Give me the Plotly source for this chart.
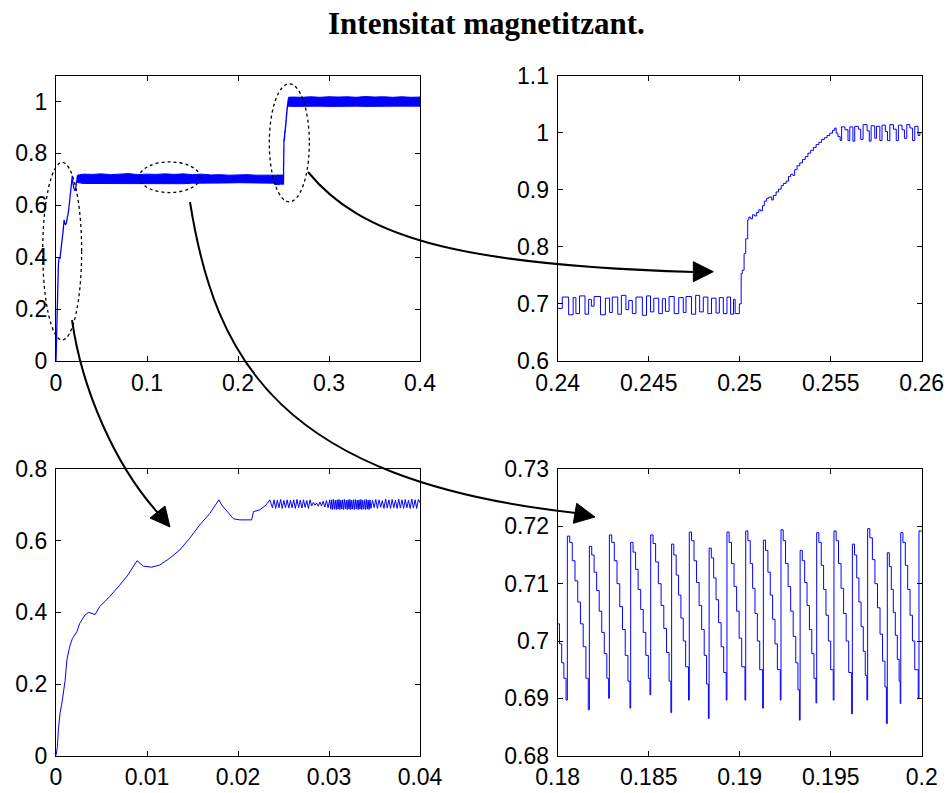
import plotly.graph_objects as go

# ---------------- data ----------------
# bottom-left: start-up transient 0 .. 0.04 s
bl_t = [0, 0.00015, 0.00026, 0.00044, 0.0007, 0.001, 0.0012, 0.0015, 0.0018, 0.0023,
        0.0026, 0.0032, 0.0036, 0.0043, 0.0048, 0.0059, 0.007, 0.0079, 0.0089, 0.0096,
        0.0105, 0.0114, 0.0125, 0.0136, 0.0147, 0.0158, 0.0169, 0.0179, 0.0182, 0.0188,
        0.0195, 0.0202, 0.0215, 0.0217, 0.0224, 0.0231, 0.0235,
        0.02378, 0.02396, 0.02414, 0.02432, 0.02450, 0.02468, 0.02486, 0.02504, 0.02522,
        0.02540, 0.02558, 0.02576, 0.02594, 0.02612, 0.02630, 0.02648, 0.02666, 0.02684,
        0.02702, 0.02720, 0.02738, 0.02756, 0.02774, 0.02792, 0.02810, 0.02828, 0.02846,
        0.02864, 0.02882, 0.02900, 0.02918, 0.02936, 0.02954, 0.02972, 0.02990, 0.03008,
        0.03020, 0.03030, 0.03040, 0.03050, 0.03060, 0.03070, 0.03080, 0.03090, 0.03100,
        0.03110, 0.03120, 0.03130, 0.03140, 0.03150, 0.03160, 0.03170, 0.03180, 0.03190,
        0.03200, 0.03210, 0.03220, 0.03230, 0.03240, 0.03250, 0.03260, 0.03270, 0.03280,
        0.03290, 0.03300, 0.03310, 0.03320, 0.03330, 0.03340, 0.03350, 0.03360, 0.03370,
        0.03380, 0.03390, 0.03400, 0.03410, 0.03420, 0.03430, 0.03440, 0.03450, 0.03460,
        0.03478, 0.03496, 0.03514, 0.03532, 0.03550, 0.03568, 0.03586, 0.03604, 0.03622,
        0.03640, 0.03658, 0.03676, 0.03694, 0.03712, 0.03730, 0.03748, 0.03766, 0.03784,
        0.03802, 0.03820, 0.03838, 0.03856, 0.03874, 0.03892, 0.03910, 0.03928, 0.03946,
        0.03964, 0.03982, 0.04000]
bl_v = [0, 0.025, 0.072, 0.118, 0.155, 0.21, 0.267, 0.304, 0.327, 0.346,
        0.369, 0.393, 0.4, 0.394, 0.416, 0.444, 0.476, 0.504, 0.544, 0.529,
        0.526, 0.532, 0.551, 0.574, 0.607, 0.644, 0.676, 0.714, 0.70, 0.681,
        0.661, 0.658, 0.658, 0.681, 0.686, 0.70, 0.714,
        0.692, 0.714, 0.690, 0.713, 0.692, 0.715, 0.690, 0.712, 0.692,
        0.714, 0.691, 0.713, 0.692, 0.714, 0.690, 0.715, 0.692, 0.713,
        0.691, 0.714, 0.693, 0.712, 0.690, 0.714, 0.697, 0.707, 0.699,
        0.705, 0.696, 0.708, 0.697, 0.710, 0.694, 0.712, 0.692, 0.714,
        0.688, 0.714, 0.687, 0.715, 0.688, 0.713, 0.687, 0.714, 0.688,
        0.715, 0.687, 0.713, 0.688, 0.714, 0.687, 0.715, 0.689, 0.713,
        0.687, 0.714, 0.688, 0.715, 0.687, 0.713, 0.688, 0.714, 0.687,
        0.715, 0.689, 0.713, 0.687, 0.714, 0.688, 0.715, 0.687, 0.713,
        0.688, 0.714, 0.687, 0.715, 0.688, 0.713, 0.687, 0.714, 0.690,
        0.713, 0.692, 0.715, 0.690, 0.714, 0.693, 0.712, 0.690, 0.716,
        0.691, 0.714, 0.690, 0.715, 0.692, 0.713, 0.690, 0.716, 0.691,
        0.714, 0.690, 0.715, 0.692, 0.713, 0.690, 0.716, 0.691, 0.714,
        0.690, 0.715, 0.706]

# top-right: step of the reference at 0.25 s (0.24 .. 0.26 s)
tr_t = [0.24000, 0.24025, 0.24060, 0.24085, 0.24100, 0.24120, 0.24150, 0.24170, 0.24185,
        0.24200, 0.24235, 0.24262, 0.24285, 0.24300, 0.24330, 0.24350, 0.24375, 0.24390,
        0.24410, 0.24430, 0.24465, 0.24488, 0.24510, 0.24528, 0.24555, 0.24575, 0.24592,
        0.24612, 0.24640, 0.24665, 0.24690, 0.24705, 0.24735, 0.24758, 0.24780, 0.24800,
        0.24825, 0.24845, 0.24870, 0.24888, 0.24910, 0.24930, 0.24950, 0.24966, 0.24975,
        0.24998, 0.25008, 0.25014, 0.25024, 0.25033, 0.25044, 0.25050, 0.25060, 0.25070,
        0.25082, 0.25093, 0.25105, 0.25115, 0.25125, 0.25135, 0.25148, 0.25160, 0.25176,
        0.25185, 0.25200, 0.25213, 0.25228, 0.25240, 0.25255, 0.25268, 0.25280, 0.25292,
        0.25302, 0.25315, 0.25330, 0.25345, 0.25360, 0.25375, 0.25390, 0.25405, 0.25420,
        0.25435, 0.25450, 0.25465, 0.25480, 0.25495, 0.25510, 0.25522,
        0.25530, 0.25540, 0.25552, 0.25560, 0.25578, 0.25595, 0.25605, 0.25622, 0.25632,
        0.25652, 0.25665, 0.25678, 0.25700, 0.25712, 0.25722, 0.25742, 0.25752, 0.25770,
        0.25782, 0.25800, 0.25812, 0.25825, 0.25845, 0.25860, 0.25872, 0.25892, 0.25905,
        0.25918, 0.25935, 0.25950, 0.25962, 0.25980, 0.25990, 0.26000]
tr_v = [0.692, 0.712, 0.681, 0.711, 0.683, 0.714, 0.682, 0.708, 0.696,
        0.713, 0.681, 0.710, 0.685, 0.712, 0.682, 0.715, 0.690, 0.706,
        0.683, 0.712, 0.680, 0.714, 0.686, 0.710, 0.683, 0.709, 0.687,
        0.713, 0.683, 0.711, 0.685, 0.713, 0.682, 0.715, 0.686, 0.712,
        0.683, 0.710, 0.684, 0.711, 0.683, 0.712, 0.682, 0.708, 0.683,
        0.700, 0.753, 0.759, 0.788, 0.814, 0.847, 0.852, 0.849, 0.856,
        0.854, 0.860, 0.865, 0.863, 0.872, 0.880, 0.885, 0.887, 0.882,
        0.890, 0.896, 0.901, 0.907, 0.911, 0.915, 0.923, 0.927, 0.925,
        0.935, 0.942, 0.947, 0.953, 0.958, 0.964, 0.969, 0.974, 0.979,
        0.983, 0.988, 0.991, 0.995, 0.999, 1.004, 1.008,
        0.999, 0.993, 0.986, 1.010, 1.005, 0.986, 1.010, 0.985, 1.011,
        1.006, 0.988, 1.014, 1.003, 0.985, 1.012, 0.990, 1.011, 0.986,
        1.013, 1.002, 0.986, 1.014, 1.006, 0.986, 1.013, 1.005, 0.990,
        1.014, 1.008, 0.986, 1.011, 0.995, 1.000, 0.999]

# bottom-right: steady-state ripple 0.18 .. 0.20 s (one line per cycle)
br_t = [0.18000, 0.18010, 0.18022, 0.18034, 0.18046,
        0.18053, 0.18066, 0.18080, 0.18095, 0.18110, 0.18125, 0.18140, 0.18155, 0.18168,
        0.18174, 0.18187, 0.18200, 0.18214, 0.18228, 0.18242, 0.18256, 0.18270, 0.18280,
        0.18284, 0.18297, 0.18311, 0.18326, 0.18341, 0.18356, 0.18371, 0.18386, 0.18397,
        0.18401, 0.18414, 0.18428, 0.18442, 0.18456, 0.18470, 0.18484, 0.18498, 0.18507,
        0.18511, 0.18524, 0.18538, 0.18553, 0.18568, 0.18583, 0.18598, 0.18612, 0.18622,
        0.18626, 0.18638, 0.18651, 0.18664, 0.18677, 0.18690, 0.18703, 0.18719,
        0.18723, 0.18735, 0.18749, 0.18763, 0.18777, 0.18791, 0.18805, 0.18818, 0.18828,
        0.18832, 0.18844, 0.18857, 0.18870, 0.18884, 0.18898, 0.18912, 0.18926,
        0.18930, 0.18942, 0.18955, 0.18969, 0.18983, 0.18997, 0.19011, 0.19029,
        0.19033, 0.19045, 0.19058, 0.19071, 0.19084, 0.19097, 0.19110, 0.19126,
        0.19130, 0.19142, 0.19155, 0.19168, 0.19181, 0.19194, 0.19207, 0.19223,
        0.19227, 0.19239, 0.19252, 0.19266, 0.19280, 0.19294, 0.19308, 0.19320, 0.19328,
        0.19332, 0.19344, 0.19357, 0.19370, 0.19383, 0.19396, 0.19408, 0.19419,
        0.19423, 0.19435, 0.19448, 0.19461, 0.19474, 0.19487, 0.19500, 0.19514,
        0.19518, 0.19530, 0.19543, 0.19557, 0.19571, 0.19585, 0.19599, 0.19615,
        0.19619, 0.19631, 0.19643, 0.19655, 0.19667, 0.19679, 0.19690, 0.19699,
        0.19703, 0.19715, 0.19729, 0.19743, 0.19757, 0.19771, 0.19785, 0.19798, 0.19806,
        0.19811, 0.19822, 0.19833, 0.19844, 0.19855, 0.19866, 0.19876, 0.19882,
        0.19885, 0.19897, 0.19910, 0.19923, 0.19936, 0.19949, 0.19962, 0.19981,
        0.19985, 0.20000]
br_v = [0.7030, 0.6995, 0.6962, 0.6935, 0.6897,
        0.7183, 0.7172, 0.7140, 0.7105, 0.7068, 0.7030, 0.6990, 0.6935, 0.6880,
        0.7165, 0.7150, 0.7120, 0.7088, 0.7052, 0.7015, 0.6978, 0.6935, 0.6900,
        0.7185, 0.7172, 0.7140, 0.7100, 0.7060, 0.7020, 0.6975, 0.6930, 0.6883,
        0.7172, 0.7155, 0.7125, 0.7090, 0.7055, 0.7015, 0.6975, 0.6935, 0.6906,
        0.7185, 0.7170, 0.7138, 0.7100, 0.7062, 0.7022, 0.6980, 0.6930, 0.6875,
        0.7169, 0.7150, 0.7115, 0.7080, 0.7040, 0.7000, 0.6955, 0.6897,
        0.7190, 0.7175, 0.7140, 0.7102, 0.7062, 0.7020, 0.6975, 0.6925, 0.6865,
        0.7162, 0.7145, 0.7110, 0.7072, 0.7032, 0.6990, 0.6945, 0.6897,
        0.7190, 0.7172, 0.7135, 0.7095, 0.7052, 0.7005, 0.6955, 0.6897,
        0.7192, 0.7175, 0.7135, 0.7092, 0.7048, 0.7000, 0.6950, 0.6883,
        0.7176, 0.7158, 0.7120, 0.7080, 0.7038, 0.6995, 0.6950, 0.6897,
        0.7194, 0.7175, 0.7135, 0.7095, 0.7052, 0.7008, 0.6962, 0.6915, 0.6862,
        0.7158, 0.7140, 0.7102, 0.7062, 0.7020, 0.6978, 0.6935, 0.6892,
        0.7189, 0.7172, 0.7132, 0.7090, 0.7045, 0.7000, 0.6950, 0.6897,
        0.7192, 0.7175, 0.7135, 0.7092, 0.7048, 0.7000, 0.6945, 0.6873,
        0.7169, 0.7150, 0.7110, 0.7068, 0.7025, 0.6982, 0.6940, 0.6897,
        0.7196, 0.7180, 0.7142, 0.7100, 0.7058, 0.7012, 0.6965, 0.6920, 0.6856,
        0.7154, 0.7130, 0.7090, 0.7050, 0.7010, 0.6968, 0.6930, 0.6891,
        0.7189, 0.7172, 0.7132, 0.7090, 0.7045, 0.7000, 0.6950, 0.6900,
        0.7192, 0.7190]

# top-left overview: envelope of the fast ripple between the detailed windows
band1_t = [0.0235, 0.03, 0.04, 0.05, 0.06, 0.07, 0.08, 0.09, 0.10, 0.11, 0.12, 0.13,
           0.14, 0.15, 0.16, 0.17, 0.18, 0.19, 0.20, 0.21, 0.22, 0.23, 0.24, 0.2497]
band1_hi = [0.716, 0.720, 0.719, 0.721, 0.718, 0.720, 0.722, 0.718, 0.720, 0.719, 0.721, 0.719,
            0.721, 0.718, 0.720, 0.717, 0.718, 0.716, 0.717, 0.718, 0.716, 0.717, 0.716, 0.716]
band1_lo = [0.688, 0.684, 0.683, 0.684, 0.682, 0.683, 0.684, 0.683, 0.684, 0.682, 0.684, 0.683,
            0.683, 0.685, 0.685, 0.686, 0.686, 0.686, 0.687, 0.686, 0.687, 0.686, 0.685, 0.683]
band2_t = [0.2552, 0.26, 0.27, 0.28, 0.29, 0.30, 0.31, 0.32, 0.33, 0.34, 0.35, 0.36,
           0.37, 0.38, 0.39, 0.40]
band2_hi = [1.016, 1.017, 1.016, 1.018, 1.016, 1.018, 1.017, 1.018, 1.016, 1.019, 1.017, 1.018,
            1.016, 1.018, 1.016, 1.017]
band2_lo = [0.982, 0.981, 0.982, 0.981, 0.982, 0.981, 0.982, 0.981, 0.982, 0.981, 0.982, 0.981,
            0.982, 0.982, 0.981, 0.982]

# axis ticks
tl_xt = [0, 0.1, 0.2, 0.3, 0.4];            tl_xl = ["0", "0.1", "0.2", "0.3", "0.4"]
tl_yt = [0, 0.2, 0.4, 0.6, 0.8, 1.0];       tl_yl = ["0", "0.2", "0.4", "0.6", "0.8", "1"]
tr_xt = [0.24, 0.245, 0.25, 0.255, 0.26];   tr_xl = ["0.24", "0.245", "0.25", "0.255", "0.26"]
tr_yt = [0.6, 0.7, 0.8, 0.9, 1.0, 1.1];     tr_yl = ["0.6", "0.7", "0.8", "0.9", "1", "1.1"]
bl_xt = [0, 0.01, 0.02, 0.03, 0.04];        bl_xl = ["0", "0.01", "0.02", "0.03", "0.04"]
bl_yt = [0, 0.2, 0.4, 0.6, 0.8];            bl_yl = ["0", "0.2", "0.4", "0.6", "0.8"]
br_xt = [0.18, 0.185, 0.19, 0.195, 0.2];    br_xl = ["0.18", "0.185", "0.19", "0.195", "0.2"]
br_yt = [0.68, 0.69, 0.7, 0.71, 0.72, 0.73]; br_yl = ["0.68", "0.69", "0.7", "0.71", "0.72", "0.73"]

TITLE = "Intensitat magnetitzant."

# ---------------- layout geometry (pixels) ----------------
W, H = 951, 793
LX = (56.0, 420.0)
RX = (557.7, 921.7)
TY = (75.5, 361.0)
BY = (469.0, 755.7)

def px(x):
    return x / W

def py(y):
    return 1 - y / H

BLUE = "#0000ff"
fig = go.Figure()

# top-left
fig.add_trace(go.Scatter(
    x=band1_t + band1_t[::-1] + [None] + band2_t + band2_t[::-1],
    y=band1_hi + band1_lo[::-1] + [None] + band2_hi + band2_lo[::-1],
    fill="toself", fillcolor=BLUE, mode="lines", line=dict(color=BLUE, width=1),
    xaxis="x", yaxis="y", hoverinfo="skip"))
fig.add_trace(go.Scatter(x=bl_t, y=bl_v, mode="lines", line=dict(color=BLUE, width=1.3),
                         xaxis="x", yaxis="y"))
fig.add_trace(go.Scatter(x=tr_t, y=tr_v, mode="lines", line=dict(color=BLUE, width=1.3, shape="hv"),
                         xaxis="x", yaxis="y"))
# top-right
fig.add_trace(go.Scatter(x=tr_t, y=tr_v, mode="lines", line=dict(color=BLUE, width=1, shape="hv"),
                         xaxis="x2", yaxis="y2"))
# bottom-left
fig.add_trace(go.Scatter(x=bl_t, y=bl_v, mode="lines", line=dict(color=BLUE, width=1),
                         xaxis="x3", yaxis="y3"))
# bottom-right
fig.add_trace(go.Scatter(x=br_t, y=br_v, mode="lines", line=dict(color=BLUE, width=1, shape="hv"),
                         xaxis="x4", yaxis="y4"))

FONT = dict(family="Liberation Sans, Arial, sans-serif", size=23, color="black")

def xax(dom, rng, tv, tt, anchor):
    return dict(domain=[px(dom[0]), px(dom[1])], range=rng, tickvals=tv, ticktext=tt,
                anchor=anchor, automargin=False,
                showline=True, linecolor="black", linewidth=1.2, mirror="ticks",
                ticks="inside", ticklen=5, tickcolor="black", tickwidth=1,
                showgrid=False, zeroline=False, tickfont=FONT, fixedrange=True,
                ticklabelstandoff=1)

def yax(dom, rng, tv, tt, anchor):
    return dict(domain=[py(dom[1]), py(dom[0])], range=rng, tickvals=tv, ticktext=tt,
                anchor=anchor, automargin=False,
                showline=True, linecolor="black", linewidth=1.2, mirror="ticks",
                ticks="inside", ticklen=5, tickcolor="black", tickwidth=1,
                showgrid=False, zeroline=False, tickfont=FONT, fixedrange=True,
                ticklabelstandoff=3)

# ---------------- decorations: ellipses + curved arrows ----------------
def tl_pix(x, y):
    return (LX[0] + x / 0.4 * (LX[1] - LX[0]), TY[1] - y / 1.1 * (TY[1] - TY[0]))

shapes = []
for (xa, xb, ya, yb) in [(-0.0146, 0.0282, 0.081, 0.765),
                         (0.0916, 0.1582, 0.649, 0.767),
                         (0.2344, 0.2784, 0.613, 1.068)]:
    p0 = tl_pix(xa, ya)
    p1 = tl_pix(xb, yb)
    shapes.append(dict(type="circle", xref="paper", yref="paper",
                       x0=px(p0[0]), x1=px(p1[0]), y0=py(p0[1]), y1=py(p1[1]),
                       line=dict(color="black", width=1.3, dash="dot")))

def curve(p0, c1, c2, p3):
    pts = [p0, c1, c2, p3]
    s = "M {:.5f},{:.5f} C {:.5f},{:.5f} {:.5f},{:.5f} {:.5f},{:.5f}".format(
        *[v for p in pts for v in (px(p[0]), py(p[1]))])
    return dict(type="path", xref="paper", yref="paper", path=s,
                line=dict(color="black", width=2))

def head(tip, c1, c2):
    s = "M {:.5f},{:.5f} L {:.5f},{:.5f} L {:.5f},{:.5f} Z".format(
        px(tip[0]), py(tip[1]), px(c1[0]), py(c1[1]), px(c2[0]), py(c2[1]))
    return dict(type="path", xref="paper", yref="paper", path=s,
                fillcolor="black", line=dict(color="black", width=1))

# arrow A: left ellipse -> bottom-left panel
shapes.append(curve((72, 320), (82, 390), (115, 465), (158, 513)))
shapes.append(head((170, 527), (150, 518), (165, 506)))
# arrow B: middle ellipse -> bottom-right panel
shapes.append(curve((190, 202), (215, 360), (280, 480), (576, 513)))
shapes.append(head((595, 517), (576.7, 503.3), (573.3, 523.3)))
# arrow C: right ellipse -> top-right panel
shapes.append(curve((308, 172), (360, 235), (450, 265), (694, 272)))
shapes.append(head((713.3, 271.7), (693.3, 261.7), (693.3, 281.7)))

fig.update_layout(
    template="none",
    width=W, height=H, autosize=False,
    margin=dict(l=0, r=0, t=0, b=0, pad=0),
    paper_bgcolor="white", plot_bgcolor="white",
    showlegend=False,
    xaxis=xax(LX, [0, 0.4], tl_xt, tl_xl, "y"),
    yaxis=yax(TY, [0, 1.1], tl_yt, tl_yl, "x"),
    xaxis2=xax(RX, [0.24, 0.26], tr_xt, tr_xl, "y2"),
    yaxis2=yax(TY, [0.6, 1.1], tr_yt, tr_yl, "x2"),
    xaxis3=xax(LX, [0, 0.04], bl_xt, bl_xl, "y3"),
    yaxis3=yax(BY, [0, 0.8], bl_yt, bl_yl, "x3"),
    xaxis4=xax(RX, [0.18, 0.2], br_xt, br_xl, "y4"),
    yaxis4=yax(BY, [0.68, 0.73], br_yt, br_yl, "x4"),
    shapes=shapes,
    annotations=[dict(text="<b>" + TITLE + "</b>", xref="paper", yref="paper",
                      x=px(486), y=py(24), xanchor="center", yanchor="middle",
                      showarrow=False,
                      font=dict(family="Liberation Serif, Times New Roman, serif",
                                size=31, color="black"))],
)

fig.write_html("out.html")
